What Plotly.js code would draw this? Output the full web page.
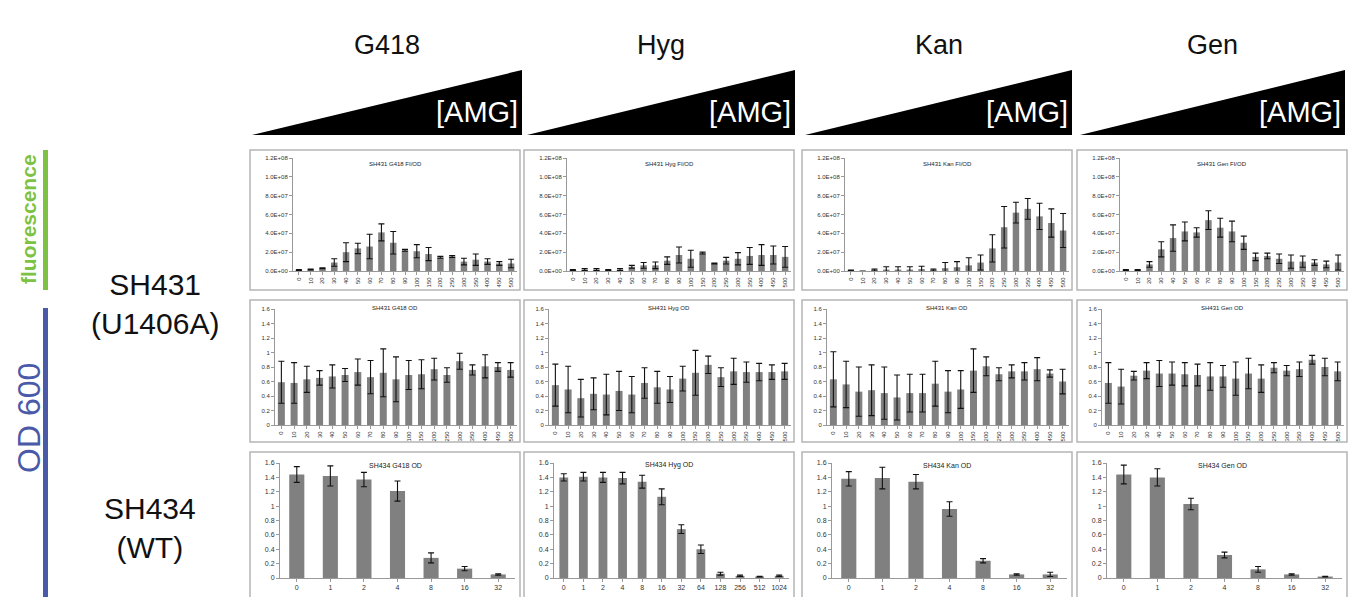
<!DOCTYPE html>
<html><head><meta charset="utf-8">
<script src="https://cdn.plot.ly/plotly-3.0.1.min.js"></script>
<style>html,body{margin:0;padding:0;background:#fff;}#chart{width:1348px;height:597px;}</style>
</head><body><div id="chart"></div>
<script>
// ---- categories ----
const cats431 = ['0','10','20','30','40','50','60','70','80','90','100','150','200','250','300','350','400','450','500'];
const cats434 = ['0','1','2','4','8','16','32'];
const cats434Hyg = ['0','1','2','4','8','16','32','64','128','256','512','1024'];
const fiTickVals = [0, 2e7, 4e7, 6e7, 8e7, 1e8, 1.2e8];
const fiTickText = ['0.0E+00','2.0E+07','4.0E+07','6.0E+07','8.0E+07','1.0E+08','1.2E+08'];
const columnTitles = ['G418','Hyg','Kan','Gen'];

// ---- SH431 FI/OD (values in units of 1e7) ----
const g418_fi     = [0.1,0.15,0.3,0.9,2.0,2.4,2.6,4.1,3.0,2.2,2.1,1.8,1.45,1.55,1.0,1.2,1.0,0.8,0.8];
const g418_fi_err = [0.05,0.05,0.05,0.4,1.0,0.55,1.3,0.9,1.2,0.1,0.7,0.7,0.1,0.1,0.35,0.6,0.3,0.2,0.45];
const hyg_fi      = [0.1,0.15,0.15,0.1,0.15,0.45,0.6,0.6,1.1,1.7,1.3,1.9,0.8,1.1,1.3,1.6,1.7,1.7,1.5];
const hyg_fi_err  = [0.05,0.1,0.1,0.05,0.1,0.15,0.3,0.35,0.4,0.85,0.9,0.1,0.05,0.35,0.65,0.9,1.1,0.95,1.1];
const kan_fi      = [0.05,0.0,0.1,0.15,0.15,0.15,0.2,0.1,0.3,0.4,0.6,0.9,2.4,4.65,6.2,6.6,5.8,5.1,4.3];
const kan_fi_err  = [0.05,0,0.1,0.3,0.3,0.3,0.3,0.1,0.6,0.6,0.8,0.8,1.45,2.2,1.1,1.1,1.4,1.5,1.8];
const gen_fi      = [0.1,0.1,0.7,2.3,3.5,4.2,4.1,5.4,4.6,4.2,3.0,1.5,1.6,1.3,1.0,1.0,0.9,0.7,0.9];
const gen_fi_err  = [0.05,0.05,0.3,0.8,1.4,1.0,0.5,1.0,1.0,1.1,0.7,0.4,0.3,0.5,0.7,0.6,0.3,0.35,0.8];

// ---- SH431 OD ----
const g418_od     = [0.59,0.58,0.63,0.65,0.67,0.69,0.73,0.66,0.72,0.63,0.69,0.70,0.77,0.69,0.88,0.76,0.81,0.80,0.76];
const g418_od_err = [0.29,0.28,0.18,0.10,0.16,0.09,0.18,0.23,0.33,0.31,0.20,0.20,0.15,0.10,0.11,0.07,0.16,0.06,0.10];
const hyg_od      = [0.55,0.49,0.37,0.43,0.42,0.47,0.42,0.58,0.52,0.49,0.64,0.72,0.83,0.66,0.74,0.73,0.73,0.73,0.74];
const hyg_od_err  = [0.29,0.32,0.26,0.22,0.28,0.27,0.25,0.21,0.22,0.18,0.17,0.31,0.12,0.13,0.18,0.14,0.12,0.10,0.11];
const kan_od      = [0.63,0.56,0.46,0.48,0.44,0.38,0.44,0.44,0.57,0.46,0.49,0.75,0.81,0.70,0.74,0.74,0.77,0.71,0.60];
const kan_od_err  = [0.38,0.32,0.34,0.35,0.36,0.31,0.26,0.26,0.31,0.29,0.26,0.30,0.13,0.09,0.09,0.12,0.16,0.05,0.17];
const gen_od      = [0.58,0.53,0.68,0.75,0.71,0.71,0.70,0.69,0.67,0.67,0.64,0.71,0.64,0.79,0.75,0.77,0.90,0.80,0.74];
const gen_od_err  = [0.28,0.24,0.06,0.11,0.18,0.16,0.16,0.15,0.19,0.15,0.23,0.21,0.19,0.07,0.07,0.10,0.06,0.12,0.13];

// ---- SH434 OD ----
const wt_g418     = [1.44,1.42,1.37,1.21,0.28,0.13,0.05];
const wt_g418_err = [0.11,0.14,0.10,0.14,0.07,0.03,0.01];
const wt_hyg      = [1.40,1.41,1.40,1.39,1.34,1.13,0.68,0.40,0.06,0.03,0.02,0.03];
const wt_hyg_err  = [0.05,0.06,0.07,0.08,0.09,0.11,0.06,0.06,0.02,0.01,0.005,0.01];
const wt_kan      = [1.38,1.39,1.34,0.96,0.24,0.05,0.05];
const wt_kan_err  = [0.10,0.15,0.10,0.10,0.03,0.01,0.03];
const wt_gen      = [1.44,1.40,1.03,0.32,0.12,0.05,0.02];
const wt_gen_err  = [0.13,0.12,0.08,0.04,0.04,0.01,0.005];

const W = 1348, H = 597;
const px = x => x / W;
const py = y => 1 - y / H;
const colLeft = [250, 524, 802, 1077];
const rowBox = [[150, 290], [300, 442], [452, 600]];
const rowPlot = [ {l:43, r:267, t:158, b:271}, {l:25, r:267, t:309, b:425}, {l:30, r:265, t:463, b:578} ];
const titleY = [164, 308, 465];

const scale = v => v.map(a => a * 1e7);
const panels = [
  {row:0,col:0,x:cats431,y:scale(g418_fi),e:scale(g418_fi_err),t:'SH431 G418 FI/OD'},
  {row:0,col:1,x:cats431,y:scale(hyg_fi),e:scale(hyg_fi_err),t:'SH431 Hyg FI/OD'},
  {row:0,col:2,x:cats431,y:scale(kan_fi),e:scale(kan_fi_err),t:'SH431 Kan FI/OD'},
  {row:0,col:3,x:cats431,y:scale(gen_fi),e:scale(gen_fi_err),t:'SH431 Gen FI/OD'},
  {row:1,col:0,x:cats431,y:g418_od,e:g418_od_err,t:'SH431 G418 OD'},
  {row:1,col:1,x:cats431,y:hyg_od,e:hyg_od_err,t:'SH431 Hyg OD'},
  {row:1,col:2,x:cats431,y:kan_od,e:kan_od_err,t:'SH431 Kan OD'},
  {row:1,col:3,x:cats431,y:gen_od,e:gen_od_err,t:'SH431 Gen OD'},
  {row:2,col:0,x:cats434,y:wt_g418,e:wt_g418_err,t:'SH434 G418 OD'},
  {row:2,col:1,x:cats434Hyg,y:wt_hyg,e:wt_hyg_err,t:'SH434 Hyg OD'},
  {row:2,col:2,x:cats434,y:wt_kan,e:wt_kan_err,t:'SH434 Kan OD'},
  {row:2,col:3,x:cats434,y:wt_gen,e:wt_gen_err,t:'SH434 Gen OD'}
];

const FONT = 'Liberation Sans, Arial, sans-serif';
const data = [];
const layout = {
  width: W, height: H, margin: {l:0, r:0, t:0, b:0},
  paper_bgcolor: '#fff', plot_bgcolor: '#fff', showlegend: false,
  shapes: [], annotations: [], bargap: 0.4
};
const ann = o => layout.annotations.push(Object.assign({xref:'paper', yref:'paper', showarrow:false,
  xanchor:'center', yanchor:'middle'}, o));

panels.forEach((p, i) => {
  const n = i === 0 ? '' : String(i + 1);
  const L = colLeft[p.col], rp = rowPlot[p.row];
  data.push({
    type: 'bar', x: p.x, y: p.y, xaxis: 'x' + n, yaxis: 'y' + n,
    marker: {color: '#808080', line: {width: 0}},
    width: p.row === 2 ? 0.45 : 0.55,
    error_y: {type: 'data', array: p.e, visible: true, color: '#111', thickness: 1.1, width: 3},
    hoverinfo: 'skip'
  });
  const small = p.row === 2 ? 7 : 6;
  layout['xaxis' + n] = {
    domain: [px(L + rp.l), px(L + rp.r)], anchor: 'y' + n, type: 'category',
    tickangle: p.row === 2 ? 0 : -90, tickfont: {family: FONT, size: small, color: '#333'},
    showline: true, linecolor: '#999', linewidth: 1, ticks: 'outside', ticklen: 3, tickcolor: '#999',
    showgrid: false, zeroline: false, fixedrange: true
  };
  const ya = {
    domain: [py(rp.b), py(rp.t)], anchor: 'x' + n,
    showline: true, linecolor: '#999', linewidth: 1, ticks: 'outside', ticklen: 3, tickcolor: '#999',
    showgrid: false, zeroline: false, fixedrange: true,
    tickfont: {family: FONT, size: small, color: '#333'}
  };
  if (p.row === 0) {
    ya.range = [0, 1.2e8]; ya.tickvals = fiTickVals; ya.ticktext = fiTickText; ya.tickmode = 'array';
  } else {
    ya.range = [0, 1.6]; ya.dtick = 0.2; ya.tick0 = 0;
  }
  layout['yaxis' + n] = ya;
  layout.shapes.push({type:'rect', xref:'paper', yref:'paper',
    x0: px(L), x1: px(L + 270), y0: py(rowBox[p.row][1]), y1: py(rowBox[p.row][0]),
    line: {color: '#b5b5b5', width: 1.5}, fillcolor: 'rgba(0,0,0,0)', layer: 'below'});
  ann({x: px(L + 145), y: py(titleY[p.row]), text: p.t, font: {family: FONT, size: small, color: '#222'}});
});

// column headers + wedges
const wedge = [[252, 522], [527, 795], [805, 1072], [1080, 1345]];
columnTitles.forEach((t, c) => {
  const [a, b] = wedge[c];
  ann({x: px((a + b) / 2), y: py(45), text: t, font: {family: FONT, size: 27, color: '#111'}});
  layout.shapes.push({type:'path', xref:'paper', yref:'paper',
    path: `M ${px(a)} ${py(135)} L ${px(b)} ${py(135)} L ${px(b)} ${py(70)} Z`,
    fillcolor: '#000', line: {width: 0}});
  ann({x: px(b - 2), y: py(112), text: '[AMG]', xanchor: 'right',
    font: {family: FONT, size: 29, color: '#fff'}});
});

// left side bars and labels
layout.shapes.push({type:'rect', xref:'paper', yref:'paper', x0: px(43), x1: px(48), y0: py(290), y1: py(150),
  fillcolor: '#7dc243', line: {width: 0}});
layout.shapes.push({type:'rect', xref:'paper', yref:'paper', x0: px(43), x1: px(48), y0: py(600), y1: py(308),
  fillcolor: '#4a5aa8', line: {width: 0}});
ann({x: px(29), y: py(219), text: '<b>fluorescence</b>', textangle: -90,
  font: {family: FONT, size: 21, color: '#7dc243'}});
ann({x: px(29), y: py(418), text: 'OD 600', textangle: -90,
  font: {family: FONT, size: 32, color: '#4a5aa8'}});
ann({x: px(155), y: py(304), text: 'SH431<br>(U1406A)', font: {family: FONT, size: 30, color: '#111'}});
ann({x: px(150), y: py(528), text: 'SH434<br>(WT)', font: {family: FONT, size: 30, color: '#111'}});

Plotly.newPlot('chart', data, layout, {staticPlot: true, displayModeBar: false});
</script>
</body></html>
